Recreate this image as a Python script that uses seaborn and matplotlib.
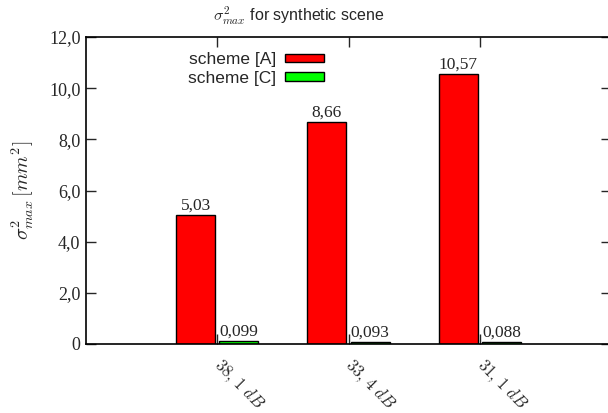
import matplotlib
matplotlib.use('Agg')
import matplotlib.pyplot as plt
from matplotlib.patches import Patch
from matplotlib.ticker import FuncFormatter
import seaborn as sns
import pandas as pd

# data
categories = ['$38,\\,1\\ dB$', '$33,\\,4\\ dB$', '$31,\\,1\\ dB$']
schemes = ['scheme [A]', 'scheme [C]']
scheme_a = [5.03, 8.66, 10.57]
scheme_c = [0.099, 0.093, 0.088]
label_a = ['5,03', '8,66', '10,57']
label_c = ['0,099', '0,093', '0,088']
y_ticks = [0, 2, 4, 6, 8, 10, 12]

df = pd.DataFrame({
    'snr': categories * 2,
    'scheme': [schemes[0]] * 3 + [schemes[1]] * 3,
    'value': scheme_a + scheme_c,
})

sns.set_style('white')
plt.rcParams['mathtext.fontset'] = 'cm'
plt.rcParams['font.family'] = ['Liberation Serif', 'DejaVu Serif']

colors = {schemes[0]: '#ff0000', schemes[1]: '#00ff00'}

fig = plt.figure(figsize=(6.08, 4.13), dpi=100)
ax = fig.add_axes([86 / 608, 1 - 344 / 413, (611 - 86) / 608, (344 - 37) / 413])

sns.barplot(data=df, x='snr', y='value', hue='scheme', palette=colors,
            width=0.66, gap=0.1, edgecolor='black', linewidth=1,
            saturation=1, legend=False, ax=ax)

# value labels above bars
for cont, labels in zip(ax.containers, [label_a, label_c]):
    ax.bar_label(cont, labels=labels, padding=1, fontsize=12.5,
                 family='Liberation Serif')

ax.set_xlim(-1, 3)
ax.set_ylim(0, 12)
ax.set_yticks(y_ticks)
ax.yaxis.set_major_formatter(FuncFormatter(
    lambda v, p: '0' if v == 0 else f'{v:.1f}'.replace('.', ',')))
ax.set_xlabel('')
ax.set_ylabel('$\\sigma^2_{max}\\,[mm^2]$', fontsize=14.5, labelpad=9)

ax.tick_params(axis='y', direction='in', length=7, width=1, left=True,
               right=True, labelsize=13, pad=4)
ax.tick_params(axis='x', direction='in', length=7, width=1, bottom=True,
               top=True, labelsize=12, pad=13)
for lab in ax.get_xticklabels():
    lab.set_rotation(-45)
    lab.set_ha('left')
    lab.set_va('center')
    lab.set_rotation_mode('anchor')

for s in ax.spines.values():
    s.set_visible(True)
    s.set_linewidth(1.2)
    s.set_color('black')

handles = [Patch(facecolor=colors[s], edgecolor='black', label=s) for s in schemes]
leg = ax.legend(handles=handles, loc='upper right', bbox_to_anchor=(0.484, 1.001),
                frameon=False, markerfirst=False, handlelength=2.3,
                handleheight=0.4, labelspacing=0.2, handletextpad=0.5,
                prop={'family': 'Liberation Sans', 'size': 12.5})
for t in leg.get_texts():
    t.set_ha('right')

fig.text(0.492, 0.962, '$\\sigma^2_{max}$ for synthetic scene', ha='center',
         va='center', fontsize=11.5, family='Liberation Sans')

fig.savefig('out.png', dpi=100)
